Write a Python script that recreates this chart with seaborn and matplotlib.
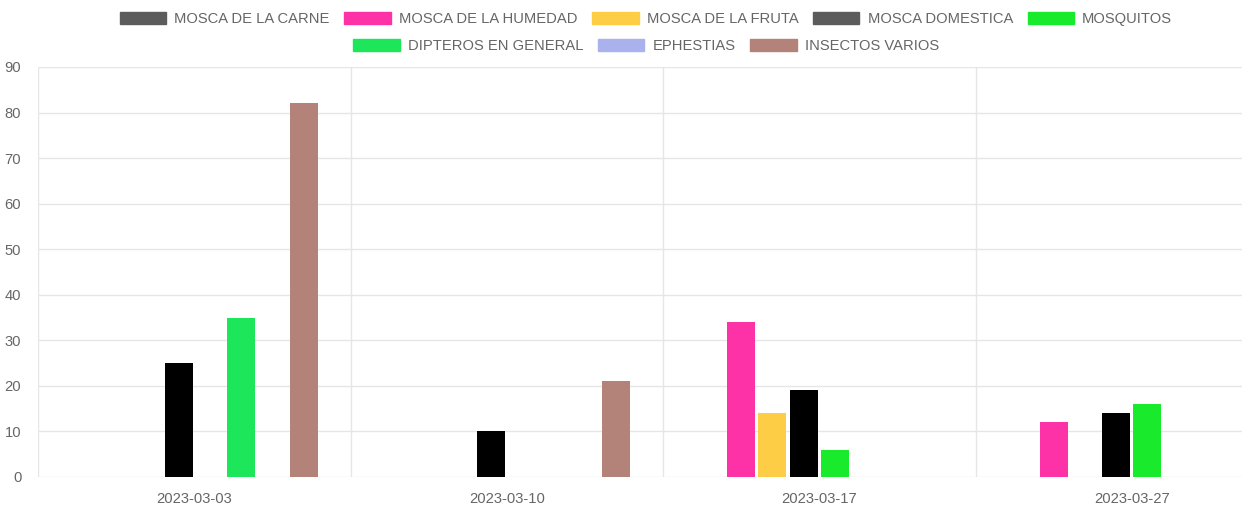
import matplotlib
matplotlib.use("Agg")
import matplotlib.pyplot as plt
import seaborn as sns
import pandas as pd
from matplotlib.patches import Patch

dates = ["2023-03-03", "2023-03-10", "2023-03-17", "2023-03-27"]
series = ["MOSCA DE LA CARNE", "MOSCA DE LA HUMEDAD", "MOSCA DE LA FRUTA",
          "MOSCA DOMESTICA", "MOSQUITOS", "DIPTEROS EN GENERAL",
          "EPHESTIAS", "INSECTOS VARIOS"]
mosca_carne = [0, 0, 0, 0]
mosca_humedad = [0, 0, 34, 12]
mosca_fruta = [0, 0, 14, 0]
mosca_domestica = [25, 10, 19, 14]
mosquitos = [0, 0, 6, 16]
dipteros = [35, 0, 0, 0]
ephestias = [0, 0, 0, 0]
insectos_varios = [82, 21, 0, 0]
y_ticks = list(range(0, 91, 10))

values = [mosca_carne, mosca_humedad, mosca_fruta, mosca_domestica,
          mosquitos, dipteros, ephestias, insectos_varios]
bar_colors = ["#000000", "#FC32A6", "#FDCD45", "#000000", "#1AEA2C",
              "#1EE65A", "#A9B2EC", "#B38278"]
legend_colors = ["#5C5C5C", "#FC32A6", "#FDCD45", "#5C5C5C", "#1AEA2C",
                 "#1EE65A", "#A9B2EC", "#B38278"]

rows = []
for s, vals in zip(series, values):
    for d, v in zip(dates, vals):
        rows.append({"fecha": d, "serie": s, "valor": v})
df = pd.DataFrame(rows)

sns.set_theme(style="white")
plt.rcParams["font.family"] = ["Liberation Sans", "DejaVu Sans"]

FS = 10.6
fig = plt.figure(figsize=(12.42, 5.09), dpi=100)
ax = fig.add_axes([38 / 1242, 32 / 509, (1242 - 38) / 1242, (477 - 67) / 509])

sns.barplot(data=df, x="fecha", y="valor", hue="serie", order=dates,
            hue_order=series, palette=bar_colors, width=0.8, gap=0.1,
            errorbar=None, legend=False, ax=ax, saturation=1, linewidth=0)

ax.set_xlim(-0.5, -0.5 + (1242 - 38) / 312.5)
ax.set_ylim(0, 90)
ax.set_yticks(y_ticks)
ax.set_xlabel("")
ax.set_ylabel("")
ax.set_xticks([-0.5, 0.5, 1.5, 2.5], minor=True)
ax.grid(True, which="major", axis="y", color="#e6e6e6", linewidth=1)
ax.grid(True, which="minor", axis="x", color="#e6e6e6", linewidth=1)
ax.set_axisbelow(True)
for sp in ax.spines.values():
    sp.set_visible(False)
ax.tick_params(axis="x", which="major", length=0, pad=11, labelsize=FS, labelcolor="#666666")
ax.tick_params(axis="x", which="minor", length=10, color="#e6e6e6", width=1)
ax.tick_params(axis="y", which="major", length=8, color="#e6e6e6", width=1, pad=4,
               labelsize=FS, labelcolor="#666666")

handles = [Patch(facecolor=c, edgecolor=c, linewidth=1) for c in legend_colors]
common = dict(frameon=False, fontsize=FS, labelcolor="#666666", handlelength=3.15,
              handleheight=0.9, handletextpad=0.55, columnspacing=1.0,
              borderaxespad=0, borderpad=0)
fig.legend(handles[:5], series[:5], ncol=5, loc="center",
           bbox_to_anchor=(646 / 1242, 1 - 19 / 509), **common)
fig.legend(handles[5:], series[5:], ncol=3, loc="center",
           bbox_to_anchor=(646 / 1242, 1 - 46 / 509), **common)

fig.savefig("out.png", dpi=100)
